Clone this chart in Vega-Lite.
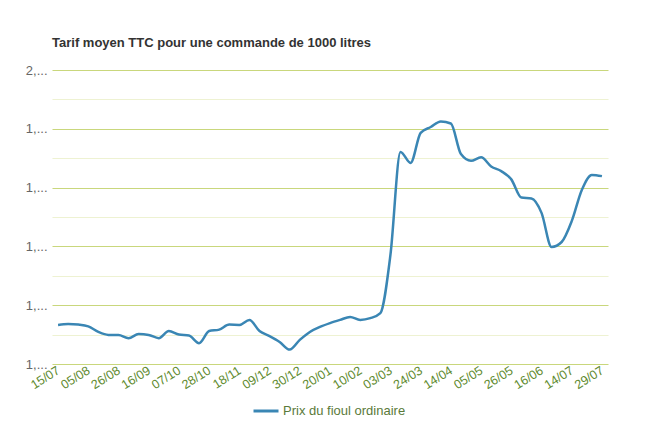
{
  "$schema": "https://vega.github.io/schema/vega-lite/v6.json",
  "autosize": {"type": "none"},
  "width": 556,
  "height": 294,
  "padding": {"left": 52, "top": 70, "right": 52, "bottom": 71},
  "background": "white",
  "title": {
    "text": "Tarif moyen TTC pour une commande de 1000 litres",
    "anchor": "start",
    "frame": "group",
    "font": "Liberation Sans",
    "fontSize": 13,
    "fontWeight": "bold",
    "color": "#333333",
    "offset": 14
  },
  "config": {
    "view": {"stroke": null},
    "font": "Liberation Sans"
  },
  "data": {
    "values": [
      {"date": "2021-07-15", "prix": 1.133},
      {"date": "2021-07-22", "prix": 1.136},
      {"date": "2021-07-29", "prix": 1.134},
      {"date": "2021-08-05", "prix": 1.128},
      {"date": "2021-08-12", "prix": 1.109},
      {"date": "2021-08-19", "prix": 1.099},
      {"date": "2021-08-26", "prix": 1.099},
      {"date": "2021-09-02", "prix": 1.088},
      {"date": "2021-09-09", "prix": 1.102},
      {"date": "2021-09-16", "prix": 1.099},
      {"date": "2021-09-23", "prix": 1.088},
      {"date": "2021-09-30", "prix": 1.112},
      {"date": "2021-10-07", "prix": 1.100},
      {"date": "2021-10-14", "prix": 1.097},
      {"date": "2021-10-21", "prix": 1.071},
      {"date": "2021-10-28", "prix": 1.112},
      {"date": "2021-11-04", "prix": 1.117},
      {"date": "2021-11-11", "prix": 1.134},
      {"date": "2021-11-18", "prix": 1.133},
      {"date": "2021-11-25", "prix": 1.150},
      {"date": "2021-12-02", "prix": 1.112},
      {"date": "2021-12-09", "prix": 1.095},
      {"date": "2021-12-16", "prix": 1.075},
      {"date": "2021-12-23", "prix": 1.049},
      {"date": "2021-12-30", "prix": 1.082},
      {"date": "2022-01-06", "prix": 1.109},
      {"date": "2022-01-13", "prix": 1.126},
      {"date": "2022-01-20", "prix": 1.139},
      {"date": "2022-01-27", "prix": 1.150},
      {"date": "2022-02-03", "prix": 1.160},
      {"date": "2022-02-10", "prix": 1.150},
      {"date": "2022-02-17", "prix": 1.156},
      {"date": "2022-02-24", "prix": 1.173},
      {"date": "2022-03-03", "prix": 1.371},
      {"date": "2022-03-10", "prix": 1.721},
      {"date": "2022-03-17", "prix": 1.684},
      {"date": "2022-03-24", "prix": 1.786},
      {"date": "2022-03-31", "prix": 1.806},
      {"date": "2022-04-07", "prix": 1.825},
      {"date": "2022-04-14", "prix": 1.818},
      {"date": "2022-04-21", "prix": 1.714},
      {"date": "2022-04-28", "prix": 1.691},
      {"date": "2022-05-05", "prix": 1.703},
      {"date": "2022-05-12", "prix": 1.672},
      {"date": "2022-05-19", "prix": 1.656},
      {"date": "2022-05-26", "prix": 1.628},
      {"date": "2022-06-02", "prix": 1.566},
      {"date": "2022-06-09", "prix": 1.563},
      {"date": "2022-06-16", "prix": 1.514},
      {"date": "2022-06-23", "prix": 1.398},
      {"date": "2022-06-30", "prix": 1.415},
      {"date": "2022-07-14", "prix": 1.486},
      {"date": "2022-07-21", "prix": 1.592},
      {"date": "2022-07-26", "prix": 1.643},
      {"date": "2022-07-29", "prix": 1.639}
    ]
  },
  "mark": {"type": "line", "interpolate": "monotone", "strokeWidth": 2.5},
  "encoding": {
    "x": {
      "field": "date",
      "type": "ordinal",
      "sort": null,
      "scale": {"type": "point", "padding": 0.6},
      "axis": {
        "title": null,
        "values": ["2021-07-15", "2021-08-05", "2021-08-26", "2021-09-16", "2021-10-07", "2021-10-28", "2021-11-18", "2021-12-09", "2021-12-30", "2022-01-20", "2022-02-10", "2022-03-03", "2022-03-24", "2022-04-14", "2022-05-05", "2022-05-26", "2022-06-16", "2022-07-14", "2022-07-29"],
        "labelExpr": "slice(datum.value, 8, 10) + '/' + slice(datum.value, 5, 7)",
        "labelAngle": -32,
        "labelAlign": "right",
        "labelBaseline": "middle",
        "labelPadding": 5,
        "labelFontSize": 12.5,
        "labelColor": "#5e8a2e",
        "labelFont": "Liberation Sans",
        "ticks": false,
        "domain": false,
        "grid": false
      }
    },
    "y": {
      "field": "prix",
      "type": "quantitative",
      "scale": {"domain": [1, 2], "nice": false, "zero": false},
      "axis": {
        "title": null,
        "values": [1, 1.1, 1.2, 1.3, 1.4, 1.5, 1.6, 1.7, 1.8, 1.9, 2],
        "labelExpr": "round(datum.value * 10) % 2 == 1 ? '' : floor(round(datum.value * 10) / 10) + ',...'",
        "labelFontSize": 13,
        "labelColor": "#666666",
        "labelFont": "Liberation Sans",
        "labelPadding": 5,
        "ticks": false,
        "domain": false,
        "grid": true,
        "gridColor": {
          "condition": {"test": "round(datum.value * 10) % 2 == 1", "value": "#eef2d2"},
          "value": "#c9d77c"
        },
        "gridWidth": 1.2,
        "gridOpacity": 1
      }
    },
    "color": {
      "datum": "Prix du fioul ordinaire",
      "type": "nominal",
      "scale": {"range": ["#3a86b4"]},
      "legend": {
        "title": null,
        "orient": "none",
        "legendX": 200,
        "legendY": 327,
        "symbolType": "stroke",
        "symbolSize": 625,
        "symbolStrokeWidth": 3,
        "labelOffset": 3,
        "labelFontSize": 13,
        "labelColor": "#5a7a3a",
        "labelFont": "Liberation Sans"
      }
    }
  }
}
